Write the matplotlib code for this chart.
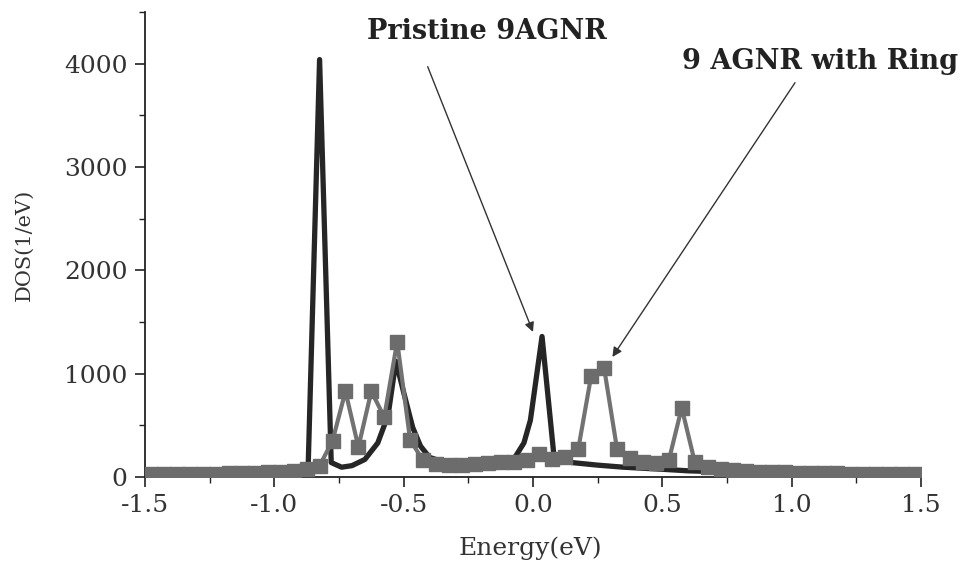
import matplotlib
matplotlib.use("Agg")
import matplotlib.pyplot as plt
from matplotlib.ticker import MultipleLocator

plt.rcParams["font.family"] = "DejaVu Serif"
plt.rcParams["axes.unicode_minus"] = False

# Pristine 9AGNR (dark line)
pristine_x = [-1.5, -1.2, -1.0, -0.9, -0.87, -0.825, -0.78, -0.74, -0.70, -0.65,
              -0.60, -0.56, -0.53, -0.50, -0.465, -0.435, -0.40, -0.35, -0.30, -0.20,
              -0.10, -0.07, -0.035, -0.01, 0.035, 0.08, 0.10, 0.15, 0.25, 0.35,
              0.50, 0.60, 0.80, 1.0, 1.25, 1.5]
pristine_y = [15, 15, 18, 20, 25, 4040, 140, 95, 110, 170,
              330, 600, 1120, 820, 480, 300, 190, 150, 120, 115,
              130, 190, 330, 550, 1360, 230, 165, 140, 115, 95,
              75, 60, 45, 35, 25, 18]

# 9AGNR with ring (grey squares)
ring_x = [-1.475, -1.425, -1.375, -1.325, -1.275, -1.225, -1.175, -1.125, -1.075, -1.025,
          -0.975, -0.925, -0.875, -0.825, -0.775, -0.725, -0.675, -0.625, -0.575, -0.525,
          -0.475, -0.425, -0.375, -0.325, -0.275, -0.225, -0.175, -0.125, -0.075, -0.025,
          0.025, 0.075, 0.125, 0.175, 0.225, 0.275, 0.325, 0.375, 0.425, 0.475,
          0.525, 0.575, 0.625, 0.675, 0.725, 0.775, 0.825, 0.875, 0.925, 0.975,
          1.025, 1.075, 1.125, 1.175, 1.225, 1.275, 1.325, 1.375, 1.425, 1.475]
ring_y = [30, 30, 30, 30, 32, 33, 35, 37, 40, 45,
          50, 60, 80, 110, 350, 830, 290, 830, 580, 1310,
          360, 160, 130, 115, 115, 125, 135, 145, 150, 165,
          225, 170, 195, 270, 980, 1055, 270, 185, 150, 135,
          160, 670, 150, 100, 75, 65, 58, 52, 48, 45,
          42, 40, 38, 36, 34, 32, 30, 28, 27, 26]

fig = plt.figure(figsize=(9.75, 5.62), dpi=100)
ax = fig.add_axes([0.1487, 0.1512, 0.7959, 0.8274])

ax.plot(pristine_x, pristine_y, color="#262626", lw=3.8, solid_joinstyle="round", zorder=2)
ax.plot(ring_x, ring_y, color="#727272", lw=3.0, marker="s", markersize=10,
        markerfacecolor="#6c6c6c", markeredgecolor="#6c6c6c", zorder=3)

ax.set_xlim(-1.5, 1.5)
ax.set_ylim(0, 4500)
ax.xaxis.set_major_locator(MultipleLocator(0.5))
ax.xaxis.set_minor_locator(MultipleLocator(0.25))
ax.yaxis.set_major_locator(MultipleLocator(1000))
ax.yaxis.set_minor_locator(MultipleLocator(500))
ax.xaxis.set_major_formatter(plt.FormatStrFormatter("%.1f"))

for s in ["top", "right"]:
    ax.spines[s].set_visible(False)
for s in ["left", "bottom"]:
    ax.spines[s].set_linewidth(1.3)
    ax.spines[s].set_color("#222222")

ax.tick_params(which="major", direction="out", length=7.5, width=1.2, labelsize=18,
               colors="#222222", labelcolor="#333333", pad=5)
ax.tick_params(which="minor", direction="out", length=4.5, width=1.0, colors="#222222")

ax.set_xlabel("Energy(eV)", fontsize=18, color="#333333")
ax.set_ylabel("DOS(1/eV)", fontsize=15, color="#333333")
ax.xaxis.set_label_coords(0.497, -0.128)
ax.yaxis.set_label_coords(-0.143, 0.5)

# annotations
ax.text(-0.18, 4310, "Pristine 9AGNR", fontsize=19.5, fontweight="bold",
        ha="center", va="center", color="#222222", clip_on=False)
ax.text(1.11, 4019, "9 AGNR with Ring", fontsize=19.5, fontweight="bold",
        ha="center", va="center", color="#222222", clip_on=False)
arrow = dict(arrowstyle="-|>", color="#333333", lw=1.0, mutation_scale=14, shrinkA=0, shrinkB=0)
ax.annotate("", xy=(0.0, 1404), xytext=(-0.407, 3971), arrowprops=arrow, annotation_clip=False)
ax.annotate("", xy=(0.307, 1162), xytext=(1.013, 3816), arrowprops=arrow, annotation_clip=False)

fig.savefig("out.png", dpi=100, facecolor="white")
